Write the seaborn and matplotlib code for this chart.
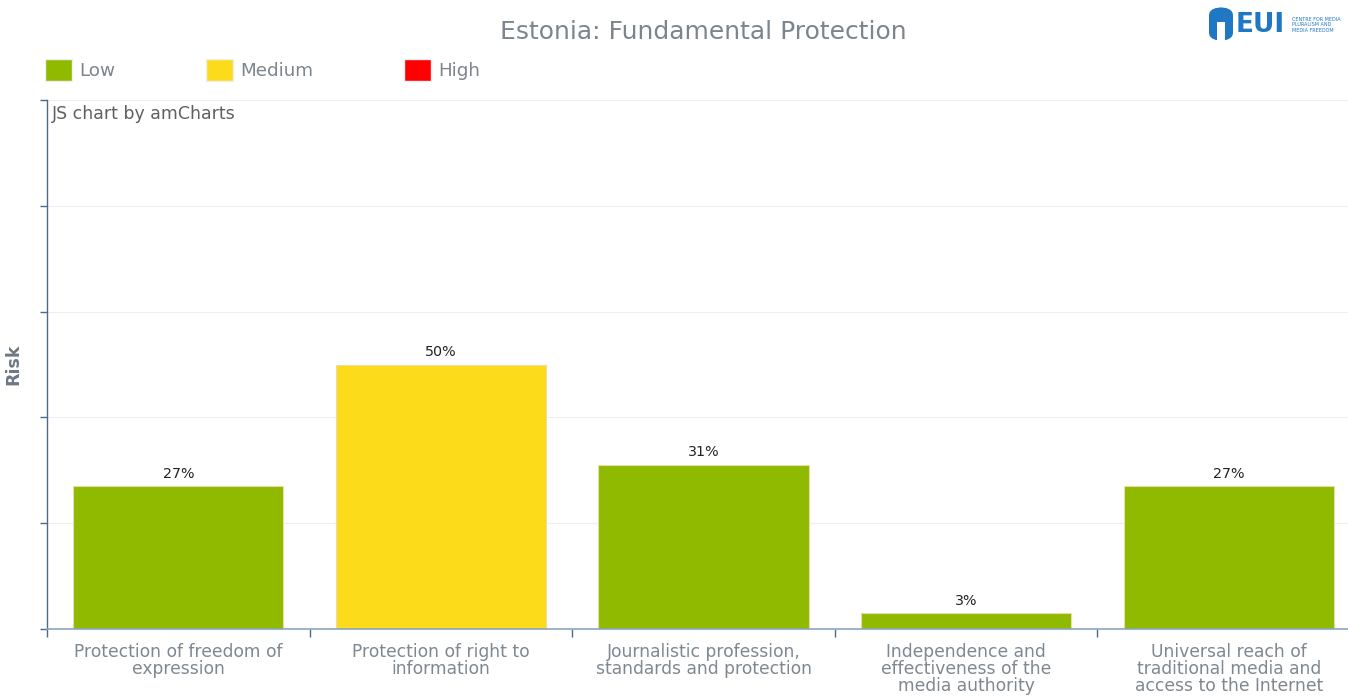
import matplotlib
matplotlib.use("Agg")
import matplotlib.pyplot as plt
import matplotlib.patches as mpatches
import seaborn as sns
import pandas as pd
import numpy as np

categories = [
    "Protection of freedom of\nexpression",
    "Protection of right to\ninformation",
    "Journalistic profession,\nstandards and protection",
    "Independence and\neffectiveness of the\nmedia authority",
    "Universal reach of\ntraditional media and\naccess to the Internet",
]
values = [27, 50, 31, 3, 27]
risk = ["Low", "Medium", "Low", "Low", "Low"]
levels = ["Low", "Medium", "High"]
colors = {"Low": "#8fba00", "Medium": "#fcdb1a", "High": "#ff0000"}

df = pd.DataFrame({"cat": categories, "val": values, "risk": risk})

sns.set_theme(style="white")
plt.rcParams["font.family"] = ["DejaVu Sans"]

fig = plt.figure(figsize=(13.48, 6.97), dpi=100)
ax = fig.add_axes([47 / 1348, 68 / 697, 1313 / 1348, 529 / 697])

sns.barplot(data=df, x="cat", y="val", hue="risk", hue_order=levels,
            palette=colors, dodge=False, width=0.8, ax=ax, legend=False,
            edgecolor="#e9dca8", linewidth=0.8, saturation=1)

ax.set_ylim(0, 100)
ax.set_xlim(-0.5, len(categories) - 0.5)
ax.set_yticks(np.arange(0, 101, 20))
ax.set_yticklabels([])
ax.yaxis.grid(True, color="#efefef", linewidth=0.8)
ax.set_axisbelow(True)
ax.tick_params(axis="y", direction="out", length=5, color="#4b6a88", width=1, left=True)

ax.set_xticks(range(len(categories)))
ax.set_xticklabels(categories, color="#7f8891", fontsize=12.3, linespacing=0.95)
ax.tick_params(axis="x", which="major", length=0, pad=10)
ax.set_xticks(np.arange(-0.5, len(categories), 1), minor=True)
ax.tick_params(axis="x", which="minor", direction="out", length=6, color="#4b6a88", width=1, bottom=True)

for s in ["top", "right"]:
    ax.spines[s].set_visible(False)
ax.spines["left"].set_color("#4b6a88")
ax.spines["bottom"].set_color("#8aa6bf")
ax.spines["left"].set_linewidth(1)
ax.spines["bottom"].set_linewidth(1.2)

ax.set_xlabel("")
ax.set_ylabel("Risk", color="#6d7883", fontsize=12.5, fontweight="bold", labelpad=9)

for container in ax.containers:
    labels = [f"{v:.0f}%" if v == v and h.get_height() > 0 else "" for v, h in zip(container.datavalues, container)]
    ax.bar_label(container, labels=labels, padding=4, fontsize=10.3, color="#222222")

fig.text(703 / 1348, 1 - 32 / 697, "Estonia: Fundamental Protection", ha="center", va="center",
         fontsize=18, color="#7c858e")

handles = [mpatches.Patch(facecolor=colors[l], edgecolor="#f0f0f0", label=l) for l in levels]
leg = fig.legend(handles=handles, loc="center left", bbox_to_anchor=(45 / 1348, 1 - 70 / 697),
                 ncol=3, frameon=False, fontsize=13.2, handlelength=1.47, handleheight=1.47,
                 handletextpad=0.38, columnspacing=4.97, borderaxespad=0, borderpad=0)
for t in leg.get_texts():
    t.set_color("#7c858e")

ax.text(5 / 1313, 1 - 14 / 529, "JS chart by amCharts", transform=ax.transAxes,
        ha="left", va="center", fontsize=12.5, color="#606060")

# logo
fig.patches.append(mpatches.FancyBboxPatch((1209 / 1348, 1 - 41 / 697), 24 / 1348, 34 / 697,
                                           boxstyle="round,pad=0,rounding_size=0.012",
                                           transform=fig.transFigure, facecolor="#1f78c1",
                                           edgecolor="none"))
fig.patches.append(mpatches.Rectangle((1217 / 1348, 1 - 41 / 697), 8 / 1348, 19 / 697,
                                      transform=fig.transFigure, facecolor="white",
                                      edgecolor="none"))
fig.text(1236 / 1348, 1 - 25 / 697, "EUI", ha="left", va="center", fontsize=19,
         fontweight="bold", color="#1f78c1")
fig.text(1292 / 1348, 1 - 25 / 697, "CENTRE FOR MEDIA\nPLURALISM AND\nMEDIA FREEDOM", ha="left",
         va="center", fontsize=3.5, color="#1f78c1", linespacing=1.15)

fig.savefig("out.png", dpi=100)
